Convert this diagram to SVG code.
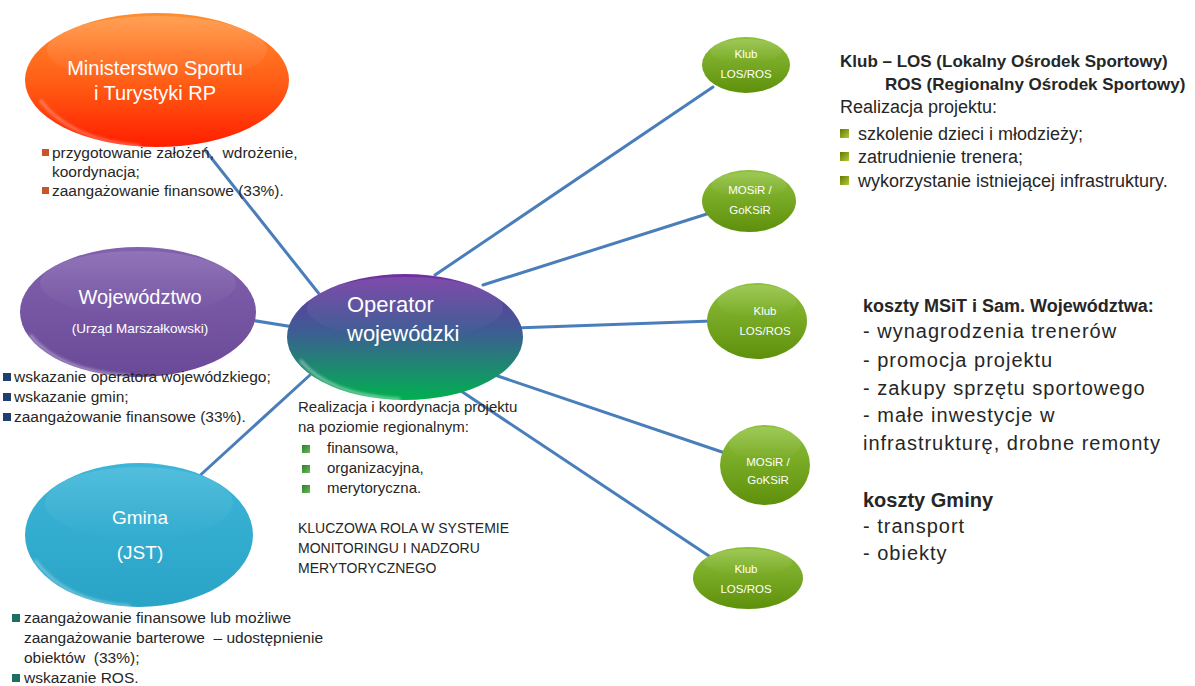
<svg xmlns="http://www.w3.org/2000/svg" width="1195" height="686" viewBox="0 0 1195 686">
<style>
text{font-family:"Liberation Sans",Arial,sans-serif;fill:#262626;white-space:pre}
.lbl{fill:#ffffff;text-anchor:middle}
.big{font-size:20px}
.sm{font-size:11.5px}
.note{font-size:15.5px}
.op{font-size:15px}
.caps{font-size:14px}
.rb{font-size:17px;font-weight:bold}
.rt{font-size:18px}
.cost{font-size:20px;letter-spacing:1px}
.cb{font-size:18px;font-weight:bold}
.conn line{stroke:#4A7EBB;stroke-width:3;stroke-linecap:round}
</style>
<defs>
<linearGradient id="gMin" x1="0" y1="0" x2="0" y2="1"><stop offset="0" stop-color="#FF8E30"/><stop offset="0.55" stop-color="#FF5A14"/><stop offset="1" stop-color="#FF1E00"/></linearGradient>
<linearGradient id="gWoj" x1="0" y1="0" x2="0" y2="1"><stop offset="0" stop-color="#8262AE"/><stop offset="1" stop-color="#6A4A98"/></linearGradient>
<linearGradient id="gGmi" x1="0" y1="0" x2="0" y2="1"><stop offset="0" stop-color="#3CB5D8"/><stop offset="1" stop-color="#2AA4C6"/></linearGradient>
<linearGradient id="gGrn" x1="0" y1="0" x2="0" y2="1"><stop offset="0" stop-color="#8EC03A"/><stop offset="1" stop-color="#5E900C"/></linearGradient>
<linearGradient id="gOp" x1="0" y1="0" x2="0" y2="1"><stop offset="0" stop-color="#7030A0"/><stop offset="0.45" stop-color="#3E5C94"/><stop offset="1" stop-color="#00B050"/></linearGradient>
<linearGradient id="gloss" x1="0" y1="0" x2="0" y2="1"><stop offset="0" stop-color="#ffffff" stop-opacity="0.3"/><stop offset="1" stop-color="#ffffff" stop-opacity="0"/></linearGradient>
<linearGradient id="gBulG" x1="0" y1="0" x2="1" y2="1"><stop offset="0" stop-color="#2E7D32"/><stop offset="1" stop-color="#66BB55"/></linearGradient>
<linearGradient id="gBulO" x1="0" y1="0" x2="1" y2="1"><stop offset="0" stop-color="#5F7A00"/><stop offset="1" stop-color="#B5C83A"/></linearGradient>
<filter id="blur" x="-10%" y="-10%" width="120%" height="120%"><feGaussianBlur stdDeviation="1.5"/></filter>
</defs>
<rect width="1195" height="686" fill="#ffffff"/>

<g id="connectors" class="conn">
<line x1="205" y1="150" x2="320" y2="295"/>
<line x1="250" y1="320" x2="300" y2="328"/>
<line x1="195" y1="480" x2="310" y2="375"/>
<line x1="435" y1="275" x2="713" y2="87"/>
<line x1="483" y1="285" x2="710" y2="213"/>
<line x1="515" y1="328" x2="712" y2="321"/>
<line x1="480" y1="370" x2="725" y2="453"/>
<line x1="455" y1="387" x2="712" y2="558"/>
</g>

<g id="node-ministerstwo">
<ellipse cx="157" cy="80" rx="132" ry="67" fill="url(#gMin)"/>
<ellipse cx="157" cy="50" rx="110" ry="34" fill="url(#gloss)" opacity="0.6"/>
<path d="M40 100 Q70 140 140 146" fill="none" stroke="#ffffff" stroke-opacity="0.5" stroke-width="2" filter="url(#blur)"/>
<text class="lbl big" x="155" y="75">Ministerstwo Sportu</text>
<text class="lbl big" x="155" y="100">i Turystyki RP</text>
</g>

<g id="node-wojewodztwo">
<ellipse cx="138" cy="312" rx="118" ry="65" fill="url(#gWoj)"/>
<ellipse cx="138" cy="283" rx="98" ry="32" fill="url(#gloss)" opacity="0.4"/>
<path d="M30 335 Q60 372 130 376" fill="none" stroke="#ffffff" stroke-opacity="0.5" stroke-width="2" filter="url(#blur)"/>
<text class="lbl big" x="140" y="304">Województwo</text>
<text class="lbl" x="140" y="333" style="font-size:13.5px">(Urząd Marszałkowski)</text>
</g>

<g id="node-gmina">
<ellipse cx="139" cy="535" rx="114" ry="72" fill="url(#gGmi)"/>
<ellipse cx="139" cy="503" rx="94" ry="36" fill="url(#gloss)" opacity="0.4"/>
<path d="M35 560 Q65 602 130 606" fill="none" stroke="#ffffff" stroke-opacity="0.5" stroke-width="2" filter="url(#blur)"/>
<text class="lbl" x="140" y="524" style="font-size:19px">Gmina</text>
<text class="lbl" x="140" y="559" style="font-size:19px">(JST)</text>
</g>

<g id="node-operator">
<ellipse cx="405" cy="337" rx="118" ry="63" fill="url(#gOp)"/>
<ellipse cx="405" cy="308" rx="98" ry="31" fill="url(#gloss)" opacity="0.4"/>
<path d="M300 360 Q330 396 400 399" fill="none" stroke="#ffffff" stroke-opacity="0.6" stroke-width="2" filter="url(#blur)"/>
<text x="347" y="312" style="font-size:22px;fill:#ffffff">Operator</text>
<text x="347" y="341" style="font-size:22px;fill:#ffffff">wojewódzki</text>
</g>

<g id="node-klub-1">
<ellipse cx="746" cy="65" rx="44" ry="28" fill="url(#gGrn)"/>
<ellipse cx="746" cy="51" rx="36" ry="12" fill="url(#gloss)" opacity="0.5"/>
<text class="lbl sm" x="746" y="58">Klub</text>
<text class="lbl sm" x="746" y="78">LOS/ROS</text>
</g>

<g id="node-mosir-1">
<ellipse cx="749" cy="201" rx="47" ry="31" fill="url(#gGrn)"/>
<ellipse cx="749" cy="185" rx="38" ry="13" fill="url(#gloss)" opacity="0.5"/>
<text class="lbl sm" x="750" y="194">MOSiR /</text>
<text class="lbl sm" x="750" y="214">GoKSiR</text>
</g>

<g id="node-klub-2">
<ellipse cx="757" cy="321" rx="50" ry="38" fill="url(#gGrn)"/>
<ellipse cx="757" cy="301" rx="40" ry="16" fill="url(#gloss)" opacity="0.5"/>
<text class="lbl sm" x="765" y="315">Klub</text>
<text class="lbl sm" x="765" y="335">LOS/ROS</text>
</g>

<g id="node-mosir-2">
<ellipse cx="765" cy="465" rx="45" ry="40" fill="url(#gGrn)"/>
<ellipse cx="765" cy="444" rx="36" ry="17" fill="url(#gloss)" opacity="0.5"/>
<text class="lbl sm" x="768" y="466">MOSiR /</text>
<text class="lbl sm" x="768" y="484">GoKSiR</text>
</g>

<g id="node-klub-3">
<ellipse cx="748" cy="578" rx="55" ry="31" fill="url(#gGrn)"/>
<ellipse cx="748" cy="562" rx="44" ry="13" fill="url(#gloss)" opacity="0.5"/>
<text class="lbl sm" x="746" y="573">Klub</text>
<text class="lbl sm" x="746" y="593">LOS/ROS</text>
</g>

<g id="notes-ministerstwo">
<rect x="42" y="149" width="7" height="7" fill="#C8552A"/>
<rect x="42" y="187" width="7" height="7" fill="#C8552A"/>
<text class="note" x="52" y="158" xml:space="preserve">przygotowanie założeń,  wdrożenie,</text>
<text class="note" x="52" y="177">koordynacja;</text>
<text class="note" x="52" y="196">zaangażowanie finansowe (33%).</text>
</g>

<g id="notes-wojewodztwo">
<rect x="3" y="373" width="8" height="8" fill="#1F3F6E"/>
<rect x="3" y="393" width="8" height="8" fill="#1F3F6E"/>
<rect x="3" y="413" width="8" height="8" fill="#1F3F6E"/>
<text class="note" x="14" y="382">wskazanie operatora wojewódzkiego;</text>
<text class="note" x="14" y="402">wskazanie gmin;</text>
<text class="note" x="14" y="422">zaangażowanie finansowe (33%).</text>
</g>

<g id="notes-gmina">
<rect x="12" y="614" width="8" height="8" fill="#1E6E64"/>
<rect x="12" y="674" width="8" height="8" fill="#1E6E64"/>
<text class="note" x="24" y="623">zaangażowanie finansowe lub możliwe</text>
<text class="note" x="24" y="643" xml:space="preserve">zaangażowanie barterowe  – udostępnienie</text>
<text class="note" x="24" y="663" xml:space="preserve">obiektów  (33%);</text>
<text class="note" x="24" y="683">wskazanie ROS.</text>
</g>

<g id="notes-operator">
<text class="op" x="298" y="412">Realizacja i koordynacja projektu</text>
<text class="op" x="298" y="432">na poziomie regionalnym:</text>
<rect x="302" y="445" width="8" height="8" fill="url(#gBulG)"/>
<rect x="302" y="465" width="8" height="8" fill="url(#gBulG)"/>
<rect x="302" y="485" width="8" height="8" fill="url(#gBulG)"/>
<text class="op" x="327" y="453">finansowa,</text>
<text class="op" x="327" y="473">organizacyjna,</text>
<text class="op" x="327" y="493">merytoryczna.</text>
<text class="caps" x="298" y="533">KLUCZOWA ROLA W SYSTEMIE</text>
<text class="caps" x="298" y="553">MONITORINGU I NADZORU</text>
<text class="caps" x="298" y="573">MERYTORYCZNEGO</text>
</g>

<g id="notes-klub">
<text class="rb" x="840" y="67">Klub – LOS (Lokalny Ośrodek Sportowy)</text>
<text class="rb" x="885" y="90">ROS (Regionalny Ośrodek Sportowy)</text>
<text class="rt" x="840" y="113">Realizacja projektu:</text>
<rect x="840" y="129" width="9" height="9" fill="url(#gBulO)"/>
<rect x="840" y="152" width="9" height="9" fill="url(#gBulO)"/>
<rect x="840" y="176" width="9" height="9" fill="url(#gBulO)"/>
<text class="rt" x="858" y="140">szkolenie dzieci i młodzieży;</text>
<text class="rt" x="858" y="163">zatrudnienie trenera;</text>
<text class="rt" x="858" y="187">wykorzystanie istniejącej infrastruktury.</text>
</g>

<g id="notes-koszty">
<text class="cb" x="863" y="312">koszty MSiT i Sam. Województwa:</text>
<text class="cost" x="863" y="338">- wynagrodzenia trenerów</text>
<text class="cost" x="863" y="367">- promocja projektu</text>
<text class="cost" x="863" y="395">- zakupy sprzętu sportowego</text>
<text class="cost" x="863" y="422">- małe inwestycje w</text>
<text class="cost" x="863" y="450">infrastrukturę, drobne remonty</text>
<text x="863" y="507" style="font-size:20px;font-weight:bold">koszty Gminy</text>
<text class="cost" x="863" y="533">- transport</text>
<text class="cost" x="863" y="560">- obiekty</text>
</g>
</svg>
